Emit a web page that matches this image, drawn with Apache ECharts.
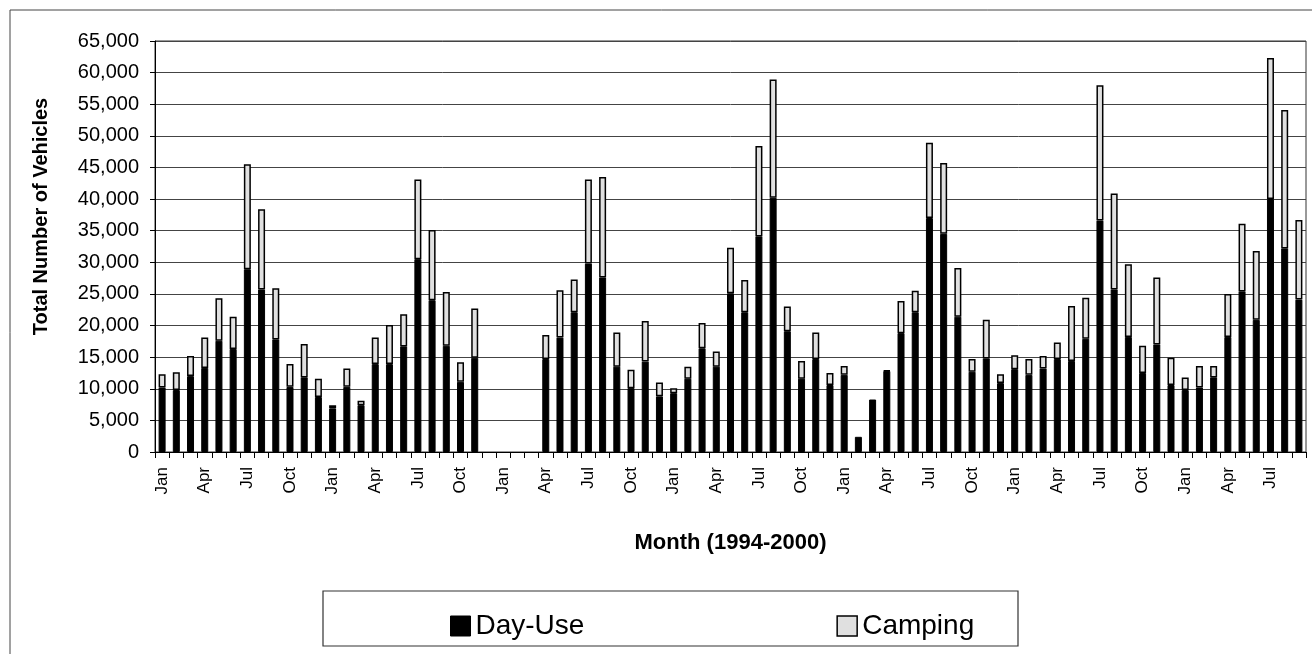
<!DOCTYPE html>
<html>
<head>
<meta charset="utf-8">
<script src="https://cdn.jsdelivr.net/npm/echarts@6/dist/echarts.min.js"></script>
<style>
html,body{margin:0;padding:0;background:#fff;}
#chart{width:1312px;height:654px;}
</style>
</head>
<body>
<div id="chart"></div>
<script>
// Month names and years (Jan 1994 - Sep 2000)
const MONTHS = ['Jan','Feb','Mar','Apr','May','Jun','Jul','Aug','Sep','Oct','Nov','Dec'];
const YEARS = [1994,1995,1996,1997,1998,1999,2000];
const MONTH_COUNT = 81;

// Day-use vehicles per month
const dayUse = [
  10200, 9800, 12000, 13300, 17600, 16300, 28900, 25700, 17800, 10300, 11800, 8700,
  6900, 10300, 7400, 13900, 13900, 16700, 30500, 24000, 16800, 11100, 14900, 0,
  0, 0, 0, 14700, 18100, 22100, 29800, 27600, 13500, 10100, 14300, 8800,
  9300, 11600, 16400, 13500, 25100, 22100, 34100, 40200, 19100, 11600, 14700, 10600,
  12200, 2400, 8300, 12800, 18800, 22100, 37000, 34500, 21400, 12700, 14800, 10900,
  13100, 12200, 13200, 14700, 14400, 17900, 36600, 25700, 18200, 12500, 17000, 10600,
  9800, 10200, 11800, 18200, 25400, 20900, 40000, 32200, 24100
];

// Total vehicles per month (Day-Use + Camping)
const totals = [
  12300, 12600, 15200, 18100, 24300, 21400, 45500, 38400, 25900, 13900, 17100, 11600,
  7400, 13200, 8100, 18100, 20100, 21800, 43100, 35100, 25300, 14200, 22700, 0,
  0, 0, 0, 18500, 25600, 27300, 43100, 43500, 18900, 13000, 20700, 11000,
  10100, 13500, 20400, 15900, 32300, 27200, 48400, 58900, 23000, 14400, 18900, 12500,
  13600, 2400, 8300, 12900, 23900, 25500, 48900, 45700, 29100, 14700, 20900, 12300,
  15300, 14700, 15200, 17300, 23100, 24400, 58000, 40900, 29700, 16800, 27600, 14900,
  11800, 13600, 13600, 25000, 36100, 31800, 62300, 54100, 36700
];

// Y-axis tick settings
const Y_MIN = 0, Y_MAX = 65000, Y_STEP = 5000;

const categories = [];
for (let i = 0; i < MONTH_COUNT; i++) {
  categories.push(MONTHS[i % 12] + ' ' + YEARS[Math.floor(i / 12)]);
}
// zero months are drawn as empty (no bar)
const daySeries = dayUse.map(v => (v > 0 ? v : null));
const campSeries = totals.map((t, i) => {
  const c = t - dayUse[i];
  return c > 0 ? c : null;
});

const FONT = '"Liberation Sans", Arial, sans-serif';
const chart = echarts.init(document.getElementById('chart'), null, {renderer: 'canvas'});
chart.setOption({
  backgroundColor: '#ffffff',
  animation: false,
  textStyle: {fontFamily: FONT, color: '#000'},
  grid: {left: 155, right: 6, top: 41, bottom: 202, show: true, borderColor: '#333', borderWidth: 1, containLabel: false},
  legend: {
    left: 445, top: 607,
    itemWidth: 20, itemHeight: 20, itemGap: 252,
    textStyle: {fontSize: 28, fontFamily: FONT, color: '#000'},
    data: [
      {name: 'Day-Use', icon: 'rect', itemStyle: {color: '#000', borderColor: '#000', borderWidth: 1}},
      {name: 'Camping', icon: 'rect', itemStyle: {color: '#e0e0e0', borderColor: '#000', borderWidth: 1.5}}
    ]
  },
  graphic: [
    {type: 'rect', silent: true, z: -1, shape: {x: 10, y: 10, width: 1320, height: 660}, style: {fill: null, stroke: '#444', lineWidth: 1}},
    {type: 'rect', silent: true, shape: {x: 323, y: 591, width: 695, height: 55}, style: {fill: null, stroke: '#333', lineWidth: 1.2}}
  ],
  xAxis: {
    type: 'category',
    data: categories,
    name: 'Month (1994-2000)',
    nameLocation: 'middle',
    nameGap: 80,
    nameTextStyle: {fontSize: 22, fontWeight: 'bold', fontFamily: FONT, color: '#000'},
    axisLine: {lineStyle: {color: '#000', width: 1}},
    axisTick: {show: true, interval: 0, length: 6, inside: false, lineStyle: {color: '#000'}},
    axisLabel: {
      interval: 2, rotate: 90, margin: 15, fontSize: 17, color: '#000', fontFamily: FONT,
      formatter: v => v.split(' ')[0]
    },
    splitLine: {show: false}
  },
  yAxis: {
    type: 'value',
    min: Y_MIN, max: Y_MAX, interval: Y_STEP,
    name: 'Total Number of Vehicles',
    nameLocation: 'middle',
    nameGap: 104,
    nameTextStyle: {fontSize: 20, fontWeight: 'bold', fontFamily: FONT, color: '#000', padding: [0, 0, 0, 60]},
    axisLine: {show: true, lineStyle: {color: '#000', width: 1}},
    axisTick: {show: true, length: 5, inside: false, lineStyle: {color: '#000'}},
    axisLabel: {
      margin: 16, fontSize: 20, color: '#000', fontFamily: FONT,
      formatter: v => v.toString().replace(/\B(?=(\d{3})+(?!\d))/g, ',')
    },
    splitLine: {show: true, lineStyle: {color: '#444', width: 1}}
  },
  series: [
    {
      name: 'Day-Use', type: 'bar', stack: 'total', data: daySeries,
      barWidth: 7,
      itemStyle: {color: '#000', borderColor: '#000', borderWidth: 1}
    },
    {
      name: 'Camping', type: 'bar', stack: 'total', data: campSeries,
      barWidth: 7,
      itemStyle: {color: '#e0e0e0', borderColor: '#000', borderWidth: 1.5}
    }
  ]
});
</script>
</body>
</html>
